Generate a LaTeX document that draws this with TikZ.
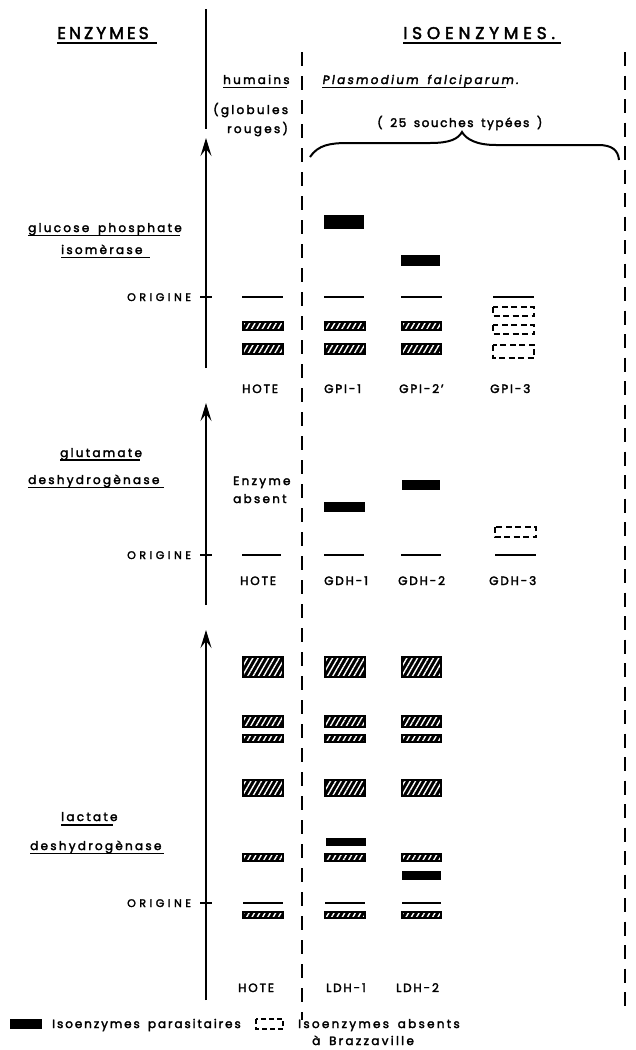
\documentclass[tikz,border=0pt]{standalone}
\usepackage{fontspec}
\setmainfont{Poppins}[WordSpace=1.6,FakeBold=2.5]
\usetikzlibrary{arrows.meta,patterns.meta}
\newcommand{\lsp}[1]{\addfontfeature{LetterSpace=#1}}
\begin{document}
\begin{tikzpicture}[x=1pt,y=-1pt,
  lab/.style={inner sep=0pt, anchor=base west, font=\fontsize{12}{14}\selectfont\lsp{19}},
  slab/.style={lab, font=\fontsize{12}{14}\selectfont\addfontfeature{LetterSpace=19,FakeSlant=0.15}},
  ttl/.style={inner sep=0pt, anchor=base west, font=\fontsize{17}{20}\selectfont\lsp{18}},
  ttlw/.style={ttl, font=\fontsize{17}{20}\selectfont\lsp{28}},
  caplab/.style={inner sep=0pt, anchor=base west, font=\fontsize{12}{14}\selectfont\lsp{15}},
  orig/.style={inner sep=0pt, anchor=base west, font=\fontsize{11}{13}\selectfont\lsp{32}},
  uline/.style={line width=1.4pt},
  axis/.style={line width=1.3pt},
  arr/.style={line width=1.3pt, -{Stealth[length=18pt,width=11pt,inset=7pt]}},
  vdash/.style={line width=1.4pt, dash pattern=on 14pt off 10pt},
  rdash/.style={line width=2pt, dash pattern=on 14pt off 9.5pt},
  oline/.style={line width=1.5pt},
  blk/.style={fill=black},
  hat/.style={preaction={fill=black}, pattern={Lines[angle=60,distance=4.6pt,line width=1.4pt]}, pattern color=white, draw=black, line width=1.2pt},
  dbox/.style={line width=1.3pt, dash pattern=on 6pt off 3.5pt}
]
\useasboundingbox (0,0) rectangle (635,1050);
\fill[white] (0,0) rectangle (635,1050);

% ---- headings ----
\node[ttl] (enz) at (57,39) {ENZYMES};
\draw[uline] (57,43) -- (157,43);
\node[ttlw] (iso) at (403,39) {ISOENZYMES.};
\draw[uline] (403,43) -- (561,43);
\node[lab] (hum) at (223,84) {humains};
\draw[uline] (223,87.5) -- (287,87.5);
\node[slab] (plas) at (322,84) {Plasmodium falciparum.};
\draw[uline] (322,87.5) -- (506,87.5);
\node[lab] (glob) at (213,114) {(globules};
\node[lab] (roug) at (227,133) {rouges)};
\node[lab, font=\fontsize{12}{14}\selectfont\lsp{13}] (souch) at (377,127) {( 25 souches typées )};
\draw[line width=2pt] (310,157) .. controls (318,145) and (330,143) .. (348,143)
  -- (430,143) .. controls (450,143) and (458,139) .. (462,132)
  .. controls (466,139) and (476,145) .. (496,145)
  -- (598,145) .. controls (612,145) and (618,150) .. (619,160);

% ---- axes ----
\draw[axis] (206,9) -- (206,129);
\draw[arr] (206,368) -- (206,138);
\draw[arr] (206,605) -- (206,403);
\draw[arr] (206,1000) -- (206,630);
\draw[vdash] (302,52) -- (302,1020);
\draw[rdash] (625,52) -- (625,1008);

% ---- GPI ----
\node[lab] (gpa) at (28,232) {glucose phosphate};
\draw[uline] (28,235.5) -- (180,235.5);
\node[lab] (gpb) at (61,254) {isomèrase};
\draw[uline] (61,257.5) -- (150,257.5);
\node[orig] (o1) at (127,301) {ORIGINE};
\draw[axis] (200,297) -- (212,297);
\fill[blk] (324,215) rectangle (364,229);
\fill[blk] (401,255) rectangle (440,266);
\draw[oline] (242,297) -- (283,297);
\draw[oline] (324,297) -- (364,297);
\draw[oline] (401,297) -- (442,297);
\draw[line width=2pt] (493,297) -- (534,297);
\path[hat] (243,322) rectangle (283,330);
\path[hat] (325,322) rectangle (365,330);
\path[hat] (402,322) rectangle (441,330);
\path[hat] (243,344) rectangle (283,354);
\path[hat] (325,344) rectangle (365,354);
\path[hat] (402,344) rectangle (441,354);
\draw[dbox] (493,307) rectangle (534,316);
\draw[dbox] (493,325) rectangle (534,334);
\draw[dbox] (493,345) rectangle (534,358);
\node[caplab] (h1) at (242,393) {HOTE};
\node[caplab] (g1) at (324,393) {GPI-1};
\node[caplab] (g2) at (399,393) {GPI-2’};
\node[caplab] (g3) at (490,393) {GPI-3};

% ---- GDH ----
\node[lab] (gda) at (60,457) {glutamate};
\draw[uline] (60,460) -- (140,460);
\node[lab] (gdb) at (28,484) {deshydrogènase};
\draw[uline] (28,487.5) -- (164,487.5);
\node[lab] (ea) at (233,485) {Enzyme};
\node[lab] (eb) at (233,503) {absent};
\fill[blk] (402,480) rectangle (440,490);
\fill[blk] (324,502) rectangle (365,512);
\draw[dbox] (495,527) rectangle (536,537);
\node[orig] (o2) at (127,559) {ORIGINE};
\draw[axis] (200,555) -- (212,555);
\draw[oline] (242,555) -- (281,555);
\draw[oline] (324,555) -- (364,555);
\draw[oline] (401,555) -- (441,555);
\draw[oline] (495,555) -- (536,555);
\node[caplab] (h2) at (240,585) {HOTE};
\node[caplab] (d1) at (324,585) {GDH-1};
\node[caplab] (d2) at (398,585) {GDH-2};
\node[caplab] (d3) at (489,585) {GDH-3};

% ---- LDH ----
\foreach \xa/\xb in {243/283, 325/365, 402/441}{
  \path[hat] (\xa,657) rectangle (\xb,677);
  \path[hat] (\xa,716) rectangle (\xb,727);
  \path[hat] (\xa,735) rectangle (\xb,742);
  \path[hat] (\xa,780) rectangle (\xb,796);
  \path[hat] (\xa,854) rectangle (\xb,861);
  \draw[oline] (\xa,903) -- (\xb,903);
  \path[hat] (\xa,912) rectangle (\xb,918);
}
\fill[blk] (326,838) rectangle (366,846);
\fill[blk] (402,871) rectangle (441,880);
\node[lab] (la) at (61,821) {lactate};
\draw[uline] (61,825) -- (113,825);
\node[lab] (lb) at (30,850) {deshydrogènase};
\draw[uline] (30,853.5) -- (164,853.5);
\node[orig] (o3) at (127,907) {ORIGINE};
\draw[axis] (200,903) -- (212,903);
\node[caplab] (h3) at (238,992) {HOTE};
\node[caplab] (l1) at (326,992) {LDH-1};
\node[caplab] (l2) at (396,992) {LDH-2};

% ---- legend ----
\fill[blk] (10,1019) rectangle (42,1029);
\node[lab, font=\fontsize{12}{14}\selectfont\lsp{16}] (lg1) at (52,1028) {Isoenzymes parasitaires};
\draw[dbox, dash pattern=on 5pt off 3pt] (256,1019) rectangle (283,1029);
\node[lab] (lg2) at (298,1028) {Isoenzymes absents};
\node[lab] (lg3) at (312,1045) {à Brazzaville};
\end{tikzpicture}
\end{document}
